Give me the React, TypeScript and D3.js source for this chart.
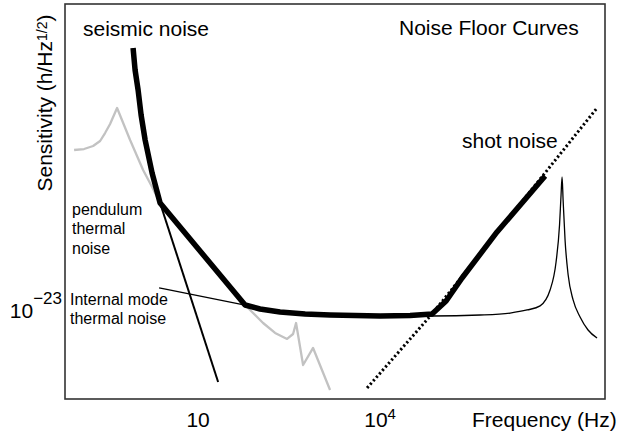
import React from "react";
import * as d3 from "d3";

// ---- data (Hz, strain / sqrt(Hz)) ----
const totalFreq = [0.848, 0.915, 1.026, 1.15, 1.34, 1.745, 2.364, 59.5, 105, 224.7, 581, 1498, 1e4, 3.12e4, 7.19e4, 1.225e5, 2.244e5, 8.47e5, 5.25e6];
const totalValue = [2.33e-19, 1.0e-19, 4.64e-20, 1.78e-20, 6.81e-21, 1.92e-21, 6.07e-22, 1.21e-23, 1.04e-23, 9.26e-24, 8.58e-24, 8.25e-24, 7.94e-24, 8.1e-24, 8.58e-24, 1.41e-23, 3.41e-23, 2.0e-22, 1.71e-21];

const seismicFreq = [0.0904, 0.132, 0.186, 0.2425, 0.293, 0.3543, 0.462, 0.757, 1.24, 1.745, 2.364, 59.5, 117.9, 185.8, 293, 368, 412, 538, 786, 1498];
const seismicValue = [4.64e-21, 4.82e-21, 5.41e-21, 6.56e-21, 8.91e-21, 1.26e-20, 2.33e-20, 6.81e-21, 2.15e-21, 1.12e-21, 6.07e-22, 1.21e-23, 6.07e-24, 4.14e-24, 3.29e-24, 3.98e-24, 6.07e-24, 1.21e-24, 2.33e-24, 4.64e-25];

const pendulumFreq = [2.364, 21.4];
const pendulumValue = [6.07e-22, 6.31e-25];

const internalFreq = [2.276, 59.5, 224.7, 1498, 1e4, 7.19e4, 4.45e5, 1.39e6, 2.65e6, 4.34e6, 6.34e6, 7.96e6, 9.08e6, 9.62e6, 1e7, 1.04e7, 1.12e7, 1.26e7, 1.52e7, 1.98e7, 2.68e7, 3.77e7];
const internalValue = [2.33e-23, 1.21e-23, 9.26e-24, 8.25e-24, 7.94e-24, 7.94e-24, 8.25e-24, 8.9e-24, 1e-23, 1.17e-23, 2.15e-23, 6.31e-23, 2.61e-22, 8.25e-22, 1.65e-21, 6.81e-22, 1.47e-22, 3.83e-23, 1.47e-23, 7.64e-24, 4.64e-24, 3.41e-24];

const shotFreq = [6105, 7.19e4, 3.77e7];
const shotValue = [5.01e-25, 8.58e-24, 2.33e-20];

const xTicks = [10, 1e4];
const yTicks = [1e-23];

const W = 619;
const H = 435;
const L = 65, R = 605, T = 4, B = 399;

const FONT = "'Liberation Sans', Arial, Helvetica, sans-serif";

const x = d3.scaleLog().domain([0.064, 5.1e7]).range([L, R]);
const y = d3.scaleLog().domain([3.16e-25, 1.26e-18]).range([400, T]);

function pts(f: number[], v: number[]): [number, number][] {
  return f.map((d, i) => [d, v[i]]);
}

const lineLin = d3
  .line<[number, number]>()
  .x((d) => x(d[0]))
  .y((d) => y(d[1]));

const lineMono = d3
  .line<[number, number]>()
  .x((d) => x(d[0]))
  .y((d) => y(d[1]))
  .curve(d3.curveMonotoneX);

function expParts(v: number) {
  const e = Math.round(Math.log10(v));
  return { mant: "10", exp: e === 1 ? "" : e < 0 ? "\u2212" + Math.abs(e) : String(e) };
}

export default function App() {
  return (
    <svg
      width={W}
      height={H}
      style={{ position: "absolute", left: 0, top: 0, background: "#fff" }}
      fontFamily={FONT}
    >
      <rect x={0} y={0} width={W} height={H} fill="#fff" />
      {/* curves */}
      <path d={lineLin(pts(seismicFreq, seismicValue)) || ""} fill="none" stroke="#c2c2c2" strokeWidth={2.3} strokeLinejoin="round" />
      <path d={lineMono(pts(internalFreq, internalValue)) || ""} fill="none" stroke="#000" strokeWidth={1.3} />
      <path d={lineLin(pts(pendulumFreq, pendulumValue)) || ""} fill="none" stroke="#000" strokeWidth={2} />
      <path d={lineLin(pts(shotFreq, shotValue)) || ""} fill="none" stroke="#000" strokeWidth={3} strokeDasharray="2.2 2.4" />
      <path d={lineLin(pts(totalFreq, totalValue)) || ""} fill="none" stroke="#000" strokeWidth={5.5} strokeLinejoin="round" />

      {/* frame */}
      <rect x={L} y={T} width={R - L} height={B - T} fill="none" stroke="#333" strokeWidth={1.6} />

      {/* x tick labels */}
      {xTicks.map((t) => {
        const p = expParts(t);
        return (
          <text key={t} x={x(t)} y={427} fontSize={21} textAnchor="middle" fill="#000">
            {p.mant}
            {p.exp && (
              <tspan fontSize={15} dy={-8}>
                {p.exp}
              </tspan>
            )}
          </text>
        );
      })}
      {/* y tick labels */}
      {yTicks.map((t) => {
        const p = expParts(t);
        return (
          <text key={t} x={62} y={y(t) + 8} fontSize={21} textAnchor="end" fill="#000">
            {p.mant}
            <tspan fontSize={17} dy={-14}>
              {p.exp}
            </tspan>
          </text>
        );
      })}

      {/* axis titles */}
      <text x={472} y={427} fontSize={21} fill="#000">Frequency (Hz)</text>
      <text transform="translate(52,103) rotate(-90)" fontSize={21} textAnchor="middle" fill="#000">
        Sensitivity (h/Hz
        <tspan fontSize={14} dy={-5}>1/2</tspan>
        <tspan dy={5}>)</tspan>
      </text>

      {/* annotations */}
      <text x={83} y={36} fontSize={21} fill="#000">seismic noise</text>
      <text x={399} y={35} fontSize={21} fill="#000">Noise Floor Curves</text>
      <text x={462} y={148} fontSize={21} fill="#000">shot noise</text>
      <text fontSize={16} fill="#000">
        <tspan x={72} y={214.5}>pendulum</tspan>
        <tspan x={72} y={234}>thermal</tspan>
        <tspan x={72} y={253.5}>noise</tspan>
      </text>
      <text fontSize={16} fill="#000">
        <tspan x={70} y={305}>Internal mode</tspan>
        <tspan x={70} y={324}>thermal noise</tspan>
      </text>
    </svg>
  );
}
